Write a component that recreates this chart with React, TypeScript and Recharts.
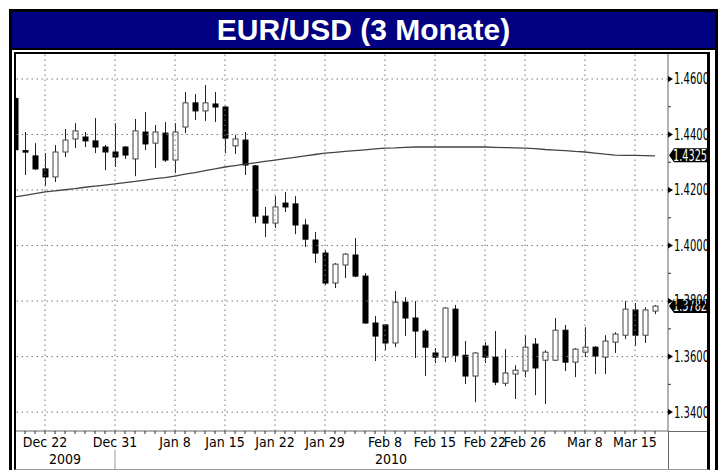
import { ComposedChart, Bar, Line, XAxis, YAxis, ReferenceLine } from "recharts";

// EUR/USD daily candles, Dec 17 2009 - Mar 17 2010
const dates = [
  "Dec 17", "Dec 18", "Dec 21", "Dec 22", "Dec 23", "Dec 24", "Dec 25", "Dec 28", "Dec 29", "Dec 30",
  "Dec 31", "Jan 1", "Jan 4", "Jan 5", "Jan 6", "Jan 7", "Jan 8", "Jan 11", "Jan 12", "Jan 13",
  "Jan 14", "Jan 15", "Jan 18", "Jan 19", "Jan 20", "Jan 21", "Jan 22", "Jan 25", "Jan 26", "Jan 27",
  "Jan 28", "Jan 29", "Feb 1", "Feb 2", "Feb 3", "Feb 4", "Feb 5", "Feb 8", "Feb 9", "Feb 10",
  "Feb 11", "Feb 12", "Feb 15", "Feb 16", "Feb 17", "Feb 18", "Feb 19", "Feb 22", "Feb 23", "Feb 24",
  "Feb 25", "Feb 26", "Mar 1", "Mar 2", "Mar 3", "Mar 4", "Mar 5", "Mar 8", "Mar 9", "Mar 10",
  "Mar 11", "Mar 12", "Mar 15", "Mar 16", "Mar 17",
];

const openValues = [
  1.453, 1.4342, 1.4323, 1.4276, 1.4247, 1.4337, 1.4384, 1.4391, 1.4377, 1.4355,
  1.4337, 1.4355, 1.4312, 1.4409, 1.4369, 1.4405, 1.4308, 1.4427, 1.4514, 1.4485,
  1.451, 1.4499, 1.4359, 1.438, 1.4287, 1.4106, 1.4081, 1.4153, 1.415, 1.4074,
  1.402, 1.3973, 1.3865, 1.393, 1.3966, 1.389, 1.3721, 1.3714, 1.3649, 1.3796,
  1.3739, 1.3692, 1.3613, 1.3598, 1.3771, 1.3605, 1.353, 1.3638, 1.3598, 1.3504,
  1.3537, 1.3548, 1.3645, 1.3587, 1.3587, 1.3695, 1.358, 1.3616, 1.3634, 1.3598,
  1.3652, 1.3677, 1.3768, 1.3677, 1.3764,
];

const highValues = [
  1.454, 1.4409, 1.4369, 1.4333, 1.4362, 1.442, 1.4441, 1.4409, 1.4459, 1.4362,
  1.4441, 1.4358, 1.4456, 1.4481, 1.4434, 1.4445, 1.4441, 1.4553, 1.4546, 1.4578,
  1.4553, 1.4502, 1.4398, 1.4409, 1.429, 1.4139, 1.4178, 1.4193, 1.4178, 1.4095,
  1.4049, 1.3984, 1.3937, 1.3973, 1.4027, 1.3901, 1.3746, 1.3717, 1.3836, 1.3814,
  1.38, 1.3699, 1.3631, 1.3778, 1.3786, 1.3656, 1.3616, 1.3652, 1.3692, 1.3627,
  1.3569, 1.3677, 1.3667, 1.3623, 1.3739, 1.3714, 1.3631, 1.3706, 1.3638, 1.3677,
  1.3688, 1.38, 1.3793, 1.3778, 1.3786,
];

const lowValues = [
  1.434, 1.4254, 1.4272, 1.4214, 1.4229, 1.4319, 1.4351, 1.4355, 1.4333, 1.4272,
  1.4283, 1.4312, 1.425, 1.4344, 1.4279, 1.4301, 1.4261, 1.4405, 1.4452, 1.4449,
  1.4445, 1.4333, 1.433, 1.4254, 1.4081, 1.4031, 1.4063, 1.4121, 1.4041, 1.3995,
  1.3937, 1.3858, 1.3847, 1.3883, 1.3886, 1.3718, 1.3584, 1.3623, 1.3634, 1.3674,
  1.3595, 1.353, 1.3577, 1.358, 1.358, 1.3501, 1.3436, 1.3577, 1.3497, 1.3494,
  1.3447, 1.3526, 1.3461, 1.3429, 1.3584, 1.3548, 1.3526, 1.3598, 1.3537, 1.3537,
  1.3613, 1.3663, 1.3638, 1.3649, 1.3753,
];

const closeValues = [
  1.4345, 1.434, 1.4276, 1.4247, 1.4337, 1.438, 1.4413, 1.4377, 1.4355, 1.4337,
  1.4319, 1.4326, 1.4413, 1.4366, 1.4409, 1.4308, 1.4409, 1.4514, 1.4485, 1.4514,
  1.4499, 1.4387, 1.4384, 1.429, 1.4106, 1.4081, 1.4139, 1.4139, 1.4074, 1.4023,
  1.3973, 1.3865, 1.3933, 1.3969, 1.389, 1.3721, 1.3674, 1.3649, 1.3796, 1.3739,
  1.3692, 1.3634, 1.3598, 1.3775, 1.3605, 1.353, 1.3613, 1.3598, 1.3508, 1.3541,
  1.3551, 1.3634, 1.3559, 1.3616, 1.3695, 1.358, 1.3627, 1.3634, 1.3602, 1.3656,
  1.3681, 1.3771, 1.3677, 1.3768, 1.3782,
];

// moving average drawn as the thin grey line
const maValues = [
  1.4175, 1.4181, 1.4187, 1.4193, 1.4197, 1.4201, 1.4205, 1.421, 1.4214, 1.4218,
  1.4222, 1.4227, 1.4231, 1.4236, 1.4241, 1.4245, 1.425, 1.4257, 1.4263, 1.427,
  1.4276, 1.4283, 1.4288, 1.4293, 1.4298, 1.4303, 1.4308, 1.4313, 1.4318, 1.4323,
  1.4328, 1.4333, 1.4336, 1.4339, 1.4342, 1.4345, 1.4348, 1.4351, 1.4352, 1.4354,
  1.4355, 1.4355, 1.4355, 1.4355, 1.4355, 1.4355, 1.4355, 1.4355, 1.4354, 1.4353,
  1.4352, 1.4351, 1.4349, 1.4346, 1.4344, 1.4342, 1.4339, 1.4337, 1.4333, 1.4329,
  1.4326, 1.4325, 1.4325, 1.4324, 1.4323,
];

const labeledDates = [
  "Dec 22", "Dec 31", "Jan 8", "Jan 15", "Jan 22", "Jan 29",
  "Feb 8", "Feb 15", "Feb 22", "Feb 26", "Mar 8", "Mar 15",
];
const yearLabels: Record<string, string> = { "Dec 24": "2009", "Feb 8": "2010" };
const yearBreak = "Dec 31";

const yTicks = [1.34, 1.35, 1.36, 1.37, 1.38, 1.39, 1.4, 1.41, 1.42, 1.43, 1.44, 1.45, 1.46];
const majorTicks = [1.34, 1.36, 1.38, 1.4, 1.42, 1.44, 1.46];

const lastMa = 1.4325;
const lastClose = 1.3782;

const NARROW = "'Liberation Sans Narrow', 'Arial Narrow', 'DejaVu Sans Condensed', sans-serif";

const data = dates.map((date, i) => ({
  date,
  open: openValues[i],
  high: highValues[i],
  low: lowValues[i],
  close: closeValues[i],
  range: [lowValues[i], highValues[i]],
  ma: maValues[i],
}));

function Candle(props: any) {
  const { x, y, width, height, payload } = props;
  if (!payload) return null;
  const { open, close, high, low } = payload;
  const top = Math.min(y, y + height);
  const h = Math.abs(height);
  const cx = Math.round(x + width / 2) + 0.5;
  const toY = (v: number) => top + ((high - v) / (high - low)) * h;
  const up = close >= open;
  const bodyTop = toY(Math.max(open, close));
  const bodyH = Math.max(toY(Math.min(open, close)) - bodyTop, 1.5);
  return (
    <g>
      <line x1={cx} x2={cx} y1={top} y2={top + h} stroke="#222" strokeWidth={1} />
      <rect
        x={cx - 2.5}
        y={bodyTop}
        width={5}
        height={bodyH}
        fill={up ? "#fff" : "#000"}
        stroke={up ? "#444" : "#000"}
        strokeWidth={1}
      />
    </g>
  );
}

function DateTick({ x, y, payload }: any) {
  const label = payload.value as string;
  return (
    <g>
      {labeledDates.includes(label) && (
        <text x={x} y={y + 13} textAnchor="middle" fontFamily={NARROW} fontSize={14} fill="#000">
          {label}
        </text>
      )}
      {yearLabels[label] && (
        <text x={label === "Feb 8" ? x + 6 : x} y={y + 30} textAnchor="middle" fontFamily={NARROW} fontSize={14} fill="#000">
          {yearLabels[label]}
        </text>
      )}
      {label === yearBreak && <line x1={x} x2={x} y1={y + 16} y2={y + 40} stroke="#999" />}
    </g>
  );
}

function PriceTick({ x, y, payload }: any) {
  const v = payload.value as number;
  if (!majorTicks.includes(v)) {
    return <line x1={x} x2={x + 3} y1={y} y2={y} stroke="#333" />;
  }
  return (
    <g>
      <path d={`M${x} ${y - 3}L${x + 5} ${y}L${x} ${y + 3}Z`} fill="#000" />
      <text
        x={x + 6}
        y={y}
        dy="0.36em"
        fontFamily={NARROW}
        fontSize={15}
        textLength={35}
        lengthAdjust="spacingAndGlyphs"
        fill="#000"
      >
        {v.toFixed(4)}
      </text>
    </g>
  );
}

function PriceTag({ viewBox, text }: any) {
  if (!viewBox) return null;
  const x = viewBox.x + viewBox.width;
  const y = viewBox.y;
  return (
    <g>
      <path d={`M${x + 1} ${y}L${x + 6} ${y - 7}L${x + 46} ${y - 7}L${x + 46} ${y + 7}L${x + 6} ${y + 7}Z`} fill="#000" />
      <text
        x={x + 5}
        y={y}
        dy="0.36em"
        fontFamily={NARROW}
        fontSize={15}
        textLength={34}
        lengthAdjust="spacingAndGlyphs"
        fill="#fff"
      >
        {text}
      </text>
    </g>
  );
}

export default function App() {
  return (
    <div style={{ position: "fixed", left: 0, top: 0, width: 726, height: 470, overflow: "hidden", background: "#fff" }}>
      <div style={{ position: "absolute", left: 0, top: 0 }}>
        <ComposedChart width={726} height={470} data={data} margin={{ top: 54, right: 18, bottom: 0, left: 10 }}>
          {majorTicks.map((v) => (
            <ReferenceLine key={v} y={v} stroke="#777" strokeDasharray="1.5 3.5" />
          ))}
          {labeledDates.map((d) => (
            <ReferenceLine key={d} x={d} stroke="#777" strokeDasharray="1.5 3.5" />
          ))}
          <XAxis
            dataKey="date"
            interval={0}
            height={39}
            tickSize={3}
            tickMargin={0}
            tickLine={{ stroke: "#333" }}
            axisLine={{ stroke: "#666" }}
            tick={<DateTick />}
            padding={{ left: 0, right: 8 }}
          />
          <YAxis
            orientation="right"
            width={40}
            domain={[1.3332, 1.469]}
            allowDataOverflow
            ticks={yTicks}
            interval={0}
            tickLine={false}
            tickSize={0}
            tickMargin={0}
            axisLine={{ stroke: "#666" }}
            tick={<PriceTick />}
          />
          <Bar dataKey="range" shape={<Candle />} isAnimationActive={false} />
          <Line type="linear" dataKey="ma" stroke="#444" strokeWidth={1.3} dot={false} isAnimationActive={false} />
          <ReferenceLine y={lastMa} stroke="none" label={<PriceTag text="1.4325" />} />
          <ReferenceLine y={lastClose} stroke="none" label={<PriceTag text="1.3782" />} />
        </ComposedChart>
      </div>

      {/* frame, title bar and masks on top of the chart */}
      <div style={{ position: "absolute", left: 12, top: 50, width: 2, height: 420, background: "#fff" }} />
      <div style={{ position: "absolute", left: 710, top: 50, width: 5, height: 420, background: "#fff" }} />
      <div style={{ position: "absolute", left: 668, top: 431, width: 40, height: 1, background: "#666" }} />
      <div style={{ position: "absolute", left: 668, top: 431, width: 1, height: 40, background: "#666" }} />
      <div
        style={{
          position: "absolute",
          left: 14,
          top: 52,
          width: 696,
          height: 418,
          boxSizing: "border-box",
          borderLeft: "2px solid #000",
          borderTop: "2px solid #000",
          borderRight: "3px solid #000",
          borderBottom: "1px solid #999",
        }}
      />
      <div
        style={{
          position: "absolute",
          left: 9,
          top: 9,
          width: 709,
          height: 480,
          boxSizing: "border-box",
          border: "3px solid #000",
        }}
      />
      <div
        style={{
          position: "absolute",
          left: 12,
          top: 12,
          width: 703,
          height: 36,
          background: "#000080",
          borderBottom: "2px solid #000",
          color: "#fff",
          fontFamily: "'Liberation Sans', Arial, sans-serif",
          fontWeight: "bold",
          fontSize: 30,
          lineHeight: "36px",
          textAlign: "center",
        }}
      >
        EUR/USD (3 Monate)
      </div>
    </div>
  );
}
